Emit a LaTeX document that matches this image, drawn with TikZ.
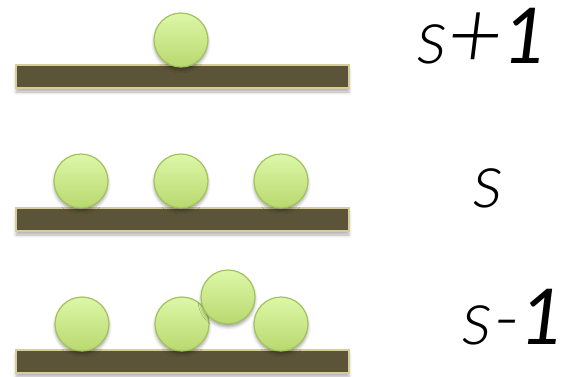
\documentclass[tikz,border=0pt]{standalone}
\usepackage{fontspec}
\setmainfont{Lato}[ItalicFont={Lato Light Italic}]
\newfontfamily\heavyone{Lato}
\usetikzlibrary{shadows.blur}
\definecolor{balltop}{HTML}{DDF7A8}
\definecolor{ballbot}{HTML}{B9D96F}
\definecolor{ballrim}{HTML}{A0C35C}
\definecolor{barfill}{HTML}{5C5438}
\definecolor{barrim}{HTML}{D6CC9C}
\newcommand{\thickone}{{\heavyone\itshape 1}}
\newcommand{\bigplus}{\raisebox{-5pt}{\scalebox{1.25}{+}}}
\tikzset{
  ball/.style={circle, minimum size=54pt, inner sep=0pt, draw=ballrim, line width=1.2pt,
    top color=balltop, bottom color=ballbot,
    blur shadow={shadow xshift=0pt, shadow yshift=-3pt, shadow blur radius=3pt, shadow opacity=35}},
  shelf/.style={rectangle, minimum width=333pt, minimum height=23pt, inner sep=0pt,
    fill=barfill, draw=barrim, line width=1.5pt,
    blur shadow={shadow xshift=0pt, shadow yshift=-4pt, shadow blur radius=3pt, shadow opacity=30}},
  lab/.style={font=\itshape\fontsize{77}{87}\selectfont, inner sep=0pt}
}
\begin{document}
\begin{tikzpicture}[x=1pt,y=-1pt]
\useasboundingbox (0,0) rectangle (567,376);
% shelves
\node[shelf] (bar1) at (182.5,76.5) {};
\node[shelf] (bar2) at (182.5,219.5) {};
\node[shelf] (bar3) at (182.5,361.5) {};
% top row
\node[ball] (b1) at (181,40) {};
% middle row
\node[ball] (m1) at (81,181) {};
\node[ball] (m2) at (181,181) {};
\node[ball] (m3) at (281,181) {};
% bottom row
\node[ball] (l1) at (82,324) {};
\node[ball] (l2) at (182,324) {};
\node[ball] (l4) at (228,297) {};
\node[ball] (l3) at (281,324) {};
% labels
\node[lab, anchor=base] (t1) at (483,63) {s\bigplus\thickone};
\node[lab, anchor=base] (t2) at (489,207) {s};
\node[lab, anchor=base] (t3) at (514,344) {s-\thickone};
\end{tikzpicture}
\end{document}
